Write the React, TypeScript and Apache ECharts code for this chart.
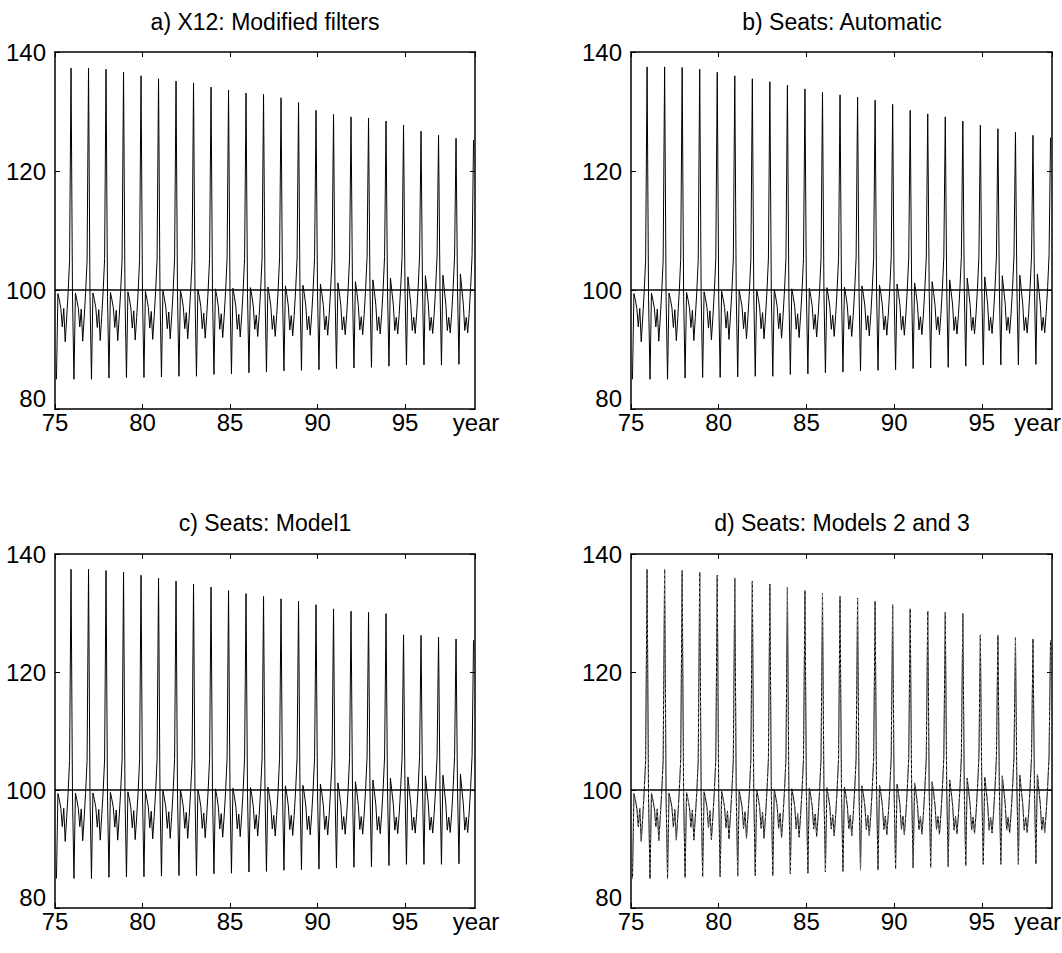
import React, { useEffect, useRef } from "react";
import * as echarts from "echarts";

// Years 1975..1998 (two-digit axis values); the series ends in Nov 1998
const years = [75, 76, 77, 78, 79, 80, 81, 82, 83, 84, 85, 86, 87, 88, 89, 90, 91, 92, 93, 94, 95, 96, 97, 98];
const xTicks = [75, 80, 85, 90, 95];
const yTicks = [80, 100, 120, 140];

// Seasonal factors per month, one value per year
const jan = [85.0, 85.0, 85.0, 85.2, 85.3, 85.3, 85.4, 85.5, 85.5, 85.8, 85.9, 86.1, 86.2, 86.4, 86.5, 86.6, 86.8, 86.9, 87.0, 87.2, 87.4, 87.4, 87.4, 87.5];
const feb = [99.4, 99.5, 99.5, 99.6, 99.7, 99.8, 99.9, 100.0, 100.1, 100.2, 100.3, 100.4, 100.5, 100.7, 100.8, 101.0, 101.2, 101.4, 101.7, 102.0, 102.2, 102.4, 102.5, 102.7];
const mar = [98.3, 98.3, 98.4, 98.4, 98.5, 98.5, 98.6, 98.7, 98.8, 98.9, 98.9, 99.0, 99.1, 99.2, 99.3, 99.4, 99.5, 99.6, 99.7, 99.8, 99.9, 100.0, 100.0, 100.1];
const apr = [96.9, 96.9, 97.0, 97.0, 97.0, 97.1, 97.1, 97.1, 97.2, 97.2, 97.2, 97.2, 97.3, 97.3, 97.3, 97.4, 97.4, 97.4, 97.5, 97.5, 97.5, 97.6, 97.6, 97.6];
const may = [93.8, 93.8, 93.7, 93.7, 93.6, 93.6, 93.5, 93.5, 93.5, 93.4, 93.4, 93.4, 93.4, 93.3, 93.3, 93.3, 93.3, 93.3, 93.2, 93.2, 93.2, 93.2, 93.2, 93.2];
const jun = [96.9, 96.8, 96.7, 96.6, 96.5, 96.4, 96.3, 96.2, 96.1, 96.0, 95.9, 95.8, 95.7, 95.7, 95.6, 95.6, 95.5, 95.5, 95.5, 95.4, 95.4, 95.4, 95.4, 95.4];
const jul = [91.3, 91.4, 91.5, 91.5, 91.6, 91.7, 91.8, 91.8, 91.9, 92.0, 92.1, 92.2, 92.2, 92.3, 92.4, 92.4, 92.5, 92.5, 92.6, 92.6, 92.7, 92.7, 92.8, 92.8];
const aug = [95.3, 95.3, 95.4, 95.4, 95.4, 95.5, 95.5, 95.5, 95.6, 95.6, 95.6, 95.7, 95.7, 95.7, 95.8, 95.8, 95.8, 95.9, 95.9, 95.9, 96.0, 96.0, 96.0, 96.1];
const sep = [99.6, 99.6, 99.7, 99.7, 99.7, 99.8, 99.8, 99.8, 99.9, 99.9, 99.9, 100.0, 100.0, 100.0, 100.1, 100.1, 100.1, 100.2, 100.2, 100.2, 100.3, 100.3, 100.3, 100.4];
const oct = [105.0, 105.0, 105.1, 105.1, 105.1, 105.2, 105.2, 105.2, 105.3, 105.3, 105.3, 105.4, 105.4, 105.4, 105.5, 105.5, 105.5, 105.6, 105.6, 105.6, 105.7, 105.7, 105.7, 105.8];
const dec = [98.8, 98.9, 98.9, 99.0, 99.0, 99.1, 99.2, 99.2, 99.3, 99.4, 99.4, 99.5, 99.6, 99.6, 99.7, 99.8, 99.8, 99.9, 100.0, 100.0, 100.1, 100.2, 100.2, 100.3];

// November peaks, per panel
const novX12 = [137.3, 137.3, 137.1, 136.6, 136.0, 135.5, 135.1, 134.8, 134.1, 133.6, 133.1, 132.9, 132.3, 131.5, 130.2, 129.5, 129.1, 128.9, 128.4, 127.7, 126.7, 126.0, 125.5, 125.2];
const novSeatsAuto = [137.5, 137.5, 137.4, 137.1, 136.6, 136.0, 135.5, 135.0, 134.4, 133.8, 133.2, 132.8, 132.4, 131.9, 131.2, 130.2, 129.6, 129.1, 128.4, 127.7, 127.1, 126.5, 126.0, 125.6];
const novSeatsModel1 = [137.4, 137.4, 137.2, 136.9, 136.4, 135.9, 135.4, 134.9, 134.4, 133.8, 133.3, 132.8, 132.4, 132.0, 131.4, 130.7, 130.3, 130.1, 129.9, 126.3, 126.2, 125.9, 125.6, 125.4];
const novSeatsModel2 = [137.4, 137.4, 137.2, 136.9, 136.4, 135.9, 135.4, 134.9, 134.4, 133.8, 133.3, 132.8, 132.5, 132.0, 131.4, 130.7, 130.3, 130.1, 129.9, 126.3, 126.2, 125.9, 125.6, 125.4];
const novSeatsModel3 = [137.4, 137.4, 137.2, 136.9, 136.4, 135.9, 135.4, 134.9, 134.4, 133.8, 133.3, 132.8, 132.5, 132.0, 131.4, 130.7, 130.3, 130.1, 129.8, 126.3, 126.1, 125.9, 125.6, 125.4];

const titles = ["a) X12: Modified filters", "b) Seats: Automatic", "c) Seats: Model1", "d) Seats: Models 2 and 3"];

function buildSeries(nov: number[]) {
  const months = [jan, feb, mar, apr, may, jun, jul, aug, sep, oct, nov, dec];
  const pts: number[][] = [];
  years.forEach((yr, i) => {
    for (let m = 0; m < 12; m++) {
      if (i === years.length - 1 && m === 11) break;
      pts.push([yr + (m + 1) / 12, months[m][i]]);
    }
  });
  return pts;
}

const FONT = "Liberation Sans, Arial, Helvetica, sans-serif";

export default function App() {
  const ref = useRef<HTMLDivElement>(null);
  useEffect(() => {
    if (!ref.current) return;
    const chart = echarts.init(ref.current, null, { renderer: "svg" });
    const grids = [
      { left: 55, top: 52, width: 420, height: 357 },
      { left: 631, top: 52, width: 421, height: 357 },
      { left: 55, top: 554, width: 420, height: 354 },
      { left: 631, top: 554, width: 421, height: 354 },
    ];
    const axisLine = { show: true, onZero: false, lineStyle: { color: "#000", width: 1.5 } };
    const tick = { show: true, inside: true, length: 5, lineStyle: { color: "#000", width: 1 } };
    const xAxis: any[] = [];
    const yAxis: any[] = [];
    grids.forEach((_, g) => {
      xAxis.push({
        gridIndex: g, type: "value", min: xTicks[0], max: 99, interval: 5, position: "bottom",
        axisLine, axisTick: tick, splitLine: { show: false },
        axisLabel: { color: "#000", fontSize: 24, fontFamily: FONT, margin: 1, showMaxLabel: false },
      });
      xAxis.push({
        gridIndex: g, type: "value", min: xTicks[0], max: 99, interval: 5, position: "top",
        axisLine, axisTick: tick, splitLine: { show: false }, axisLabel: { show: false },
      });
      yAxis.push({
        gridIndex: g, type: "value", min: yTicks[0], max: 140, interval: 20, position: "left",
        axisLine, axisTick: tick, splitLine: { show: false },
        axisLabel: { color: "#000", fontSize: 24, fontFamily: FONT, margin: 9,
          formatter: (v: number) => (v === yTicks[0] ? "" : String(v)) },
      });
      yAxis.push({
        gridIndex: g, type: "value", min: yTicks[0], max: 140, interval: 20, position: "right",
        axisLine, axisTick: tick, splitLine: { show: false }, axisLabel: { show: false },
      });
    });
    const ref100 = {
      silent: true, symbol: ["none", "none"], label: { show: false },
      lineStyle: { color: "#000", width: 1.5, type: "solid" },
      data: [{ yAxis: 100 }],
    };
    const line = (g: number, data: number[][], style: any, withRef: boolean) => ({
      type: "line", xAxisIndex: g * 2, yAxisIndex: g * 2, data, showSymbol: false, symbol: "none",
      lineStyle: style, z: 3, markLine: withRef ? ref100 : undefined,
    });
    const series = [
      line(0, buildSeries(novX12), { color: "#000", width: 1 }, true),
      line(1, buildSeries(novSeatsAuto), { color: "#000", width: 1 }, true),
      line(2, buildSeries(novSeatsModel1), { color: "#000", width: 1 }, true),
      line(3, buildSeries(novSeatsModel2), { color: "#000", width: 1 }, true),
      line(3, buildSeries(novSeatsModel3), { color: "#888", width: 1, type: [2, 3] }, false),
    ];
    const textEl = (text: string, x: number, y: number, align: string, va: string, size: number) => ({
      type: "text", x, y, silent: true,
      style: { text, fill: "#000", font: `${size}px ${FONT}`, align, verticalAlign: va },
    });
    const graphic: any[] = [];
    const titleCenters = [[265, 22], [842, 22], [265, 523], [842, 523]];
    titles.forEach((t, i) => graphic.push(textEl(t, titleCenters[i][0], titleCenters[i][1], "center", "middle", 23)));
    grids.forEach((gr, i) => {
      const bottom = gr.top + gr.height;
      graphic.push(textEl(String(yTicks[0]), gr.left - 9, bottom + 1, "right", "bottom", 24));
      if (i % 2 === 0) graphic.push(textEl("year", gr.left + gr.width + 1, bottom + 13, "center", "middle", 24));
      else graphic.push(textEl("year", 1061, bottom + 13, "right", "middle", 24));
    });
    chart.setOption({
      animation: false,
      backgroundColor: "#fff",
      grid: grids,
      xAxis, yAxis, series, graphic,
    });
    return () => chart.dispose();
  }, []);
  return <div ref={ref} style={{ position: "absolute", left: 0, top: 0, width: 1062, height: 953 }} />;
}
